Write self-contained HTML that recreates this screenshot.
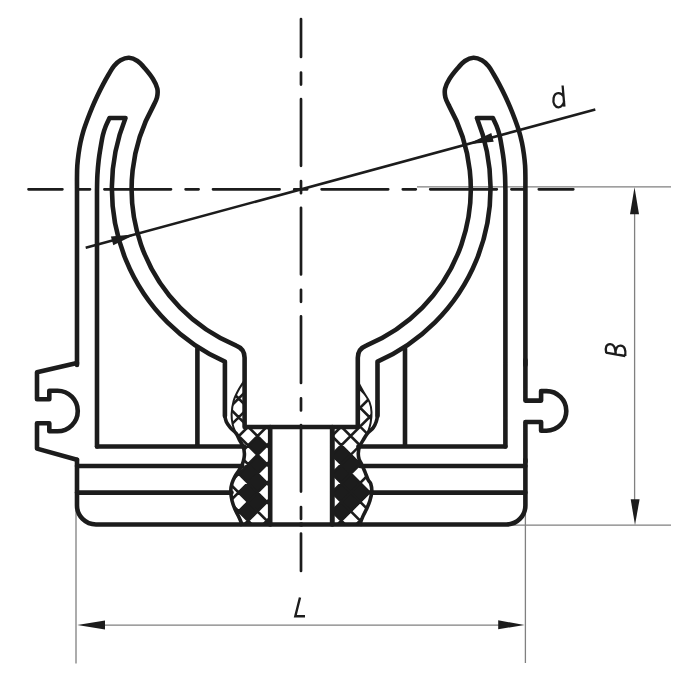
<!DOCTYPE html>
<html><head><meta charset="utf-8"><style>
html,body{margin:0;padding:0;background:#fff;width:700px;height:700px;overflow:hidden}
svg{display:block}
</style></head><body>
<svg width="700" height="700" viewBox="0 0 700 700">
<defs>
<clipPath id="cl"><path d="M244.6 380.3 C243.58 381.92 240.33 386.55 238.5 390 C236.67 393.45 234.75 396.95 233.6 401 C232.45 405.05 231.75 410.37 231.6 414.3 C231.45 418.23 231.92 421.38 232.7 424.6 C233.48 427.82 235.13 430.97 236.3 433.6 C237.47 436.23 238.57 438.27 239.7 440.4 C240.83 442.53 242.32 444.25 243.1 446.4 C243.88 448.55 244.25 451.3 244.4 453.3 C244.55 455.3 244.35 456.55 244 458.4 C243.65 460.25 243.15 462.4 242.3 464.4 C241.45 466.4 240.12 468.4 238.9 470.4 C237.68 472.4 236.15 474.25 235 476.4 C233.85 478.55 232.7 480.93 232 483.3 C231.3 485.67 230.8 487.7 230.8 490.6 C230.8 493.5 231.3 497.58 232 500.7 C232.7 503.82 233.93 506.73 235 509.3 C236.07 511.87 237.33 513.82 238.4 516.1 C239.47 518.38 240.77 521.35 241.4 523 C242.03 524.65 242.07 525.5 242.2 526 L270.2 526 L270.2 427 L244.6 427 Z"/></clipPath>
<clipPath id="cr"><path d="M358 382 C358.92 383.67 361.58 388.67 363.5 392 C365.42 395.33 368.17 398.67 369.5 402 C370.83 405.33 371.32 408.5 371.5 412 C371.68 415.5 371.3 419.4 370.6 423 C369.9 426.6 368.57 430.7 367.3 433.6 C366.03 436.5 364.28 438.27 363 440.4 C361.72 442.53 360.38 444.25 359.6 446.4 C358.82 448.55 358.38 451.15 358.3 453.3 C358.22 455.45 358.53 457.45 359.1 459.3 C359.67 461.15 360.77 462.4 361.7 464.4 C362.63 466.4 363.63 468.73 364.7 471.3 C365.77 473.87 367.1 477.75 368.1 479.8 C369.1 481.85 370.08 481.68 370.7 483.6 C371.32 485.52 371.93 488.45 371.8 491.3 C371.67 494.15 370.8 497.7 369.9 500.7 C369 503.7 367.55 506.73 366.4 509.3 C365.25 511.87 364 513.82 363 516.1 C362 518.38 360.93 521.35 360.4 523 C359.87 524.65 359.9 525.5 359.8 526 L332.2 526 L332.2 427 L358 427 Z"/></clipPath>
</defs>
<rect width="700" height="700" fill="#fff"/>
<!-- dimension lines -->
<g stroke="#808080" stroke-width="1.3" fill="none">
<path d="M417 186.9 L671 186.9 M512 525.2 L671 525.2 M634.6 200 L634.6 512 M76 505 L76 663.5 M525.4 512 L525.4 663 M90 625.2 L512 625.2"/>
</g>
<g fill="#1c1c1c" stroke="none">
<path d="M634.5 187.3 L639.0 214.3 L630.0 214.3 Z"/>
<path d="M635 525 L639.6 499.3 L630.7 499.3 Z"/>
<path d="M77.3 625 L105 620.5 L105 629.5 Z"/>
<path d="M524.5 625 L498.2 620.3 L498.2 629.2 Z"/>
</g>
<!-- centre lines -->
<g stroke="#1c1c1c" stroke-width="2.7" stroke-linecap="round" fill="none">
<path d="M301 19L301 57M301 72.6L301 84.6M301 99.2L301 165.8M301 181.2L301 193.2M301 207.8L301 274.4M301 289.8L301 301.8M301 316.4L301 383M301 398.4L301 410.4M301 425L301 491.6M301 507L301 519M301 533.6L301 571"/>
<path d="M28.5 189.3L62.4 189.3M77 189.3L90 189.3M104.4 189.3L171 189.3M185.6 189.3L198.6 189.3M213 189.3L279.6 189.3M294.2 189.3L307.2 189.3M321.6 189.3L388.2 189.3M402.8 189.3L415.8 189.3M430.2 189.3L496.8 189.3M511.4 189.3L524.4 189.3M538.8 189.3L573.3 189.3"/>
</g>
<!-- diameter line -->
<g stroke="#1c1c1c" stroke-width="2.6" fill="none"><path d="M85.7 247.7 L595.3 109.5"/></g>
<g fill="#1c1c1c" stroke="none">
<path d="M135.6 234.2 L110.9 236.6 L113.3 245.2 Z"/>
<path d="M467.4 144.2 L491.3 133.1 L493.7 141.7 Z"/>
</g>
<!-- clip body -->
<g stroke="#1c1c1c" fill="none" stroke-linejoin="round" stroke-linecap="round">

<path d="M301.2 427 L244.6 427 L244.6 357.8 Q244.6 348.77 236.2 345.54 A169.5 169.5 0 0 1 153.3 106 C153.92 104.58 156.33 100.42 157 97.5 C157.67 94.58 157.97 91.58 157.3 88.5 C156.63 85.42 155.05 82.33 153 79 C150.95 75.67 147.58 71.5 145 68.5 C142.42 65.5 140.17 62.78 137.5 61 C134.83 59.22 131.83 57.92 129 57.8 C126.17 57.68 123 58.93 120.5 60.3 C118 61.67 115.93 63.72 114 66 C112.07 68.28 110.72 70.95 108.9 74 C107.08 77.05 105.02 80.68 103.1 84.3 C101.18 87.92 99.2 91.9 97.4 95.7 C95.6 99.5 93.95 103.17 92.3 107.1 C90.65 111.03 89 115.25 87.5 119.3 C86 123.35 84.48 127.47 83.3 131.4 C82.12 135.33 81.2 139.08 80.4 142.9 C79.6 146.72 79.02 150.5 78.5 154.3 C77.98 158.1 77.55 161.9 77.3 165.7 C77.05 169.5 77.05 173.22 77 177.1 C76.95 180.98 77 187.02 77 189 L77 365" stroke-width="4.6"/>
<path d="M77 459.7 L77 505.5 A19 19 0 0 0 96 524.5 L301.2 524.5" stroke-width="4.6"/>
<path d="M97 446.5 L244 446.5M197.4 348.5 L197.4 446.5M77 466 L242.3 466M77 492.6 L231.5 492.6M270.2 427 L270.2 524.5" stroke-width="4.6"/>
<path d="M97 446.5 L97 190 C97.07 187.5 97.12 180 97.4 175 C97.68 170 98.18 164.5 98.7 160 C99.22 155.5 99.8 152.17 100.5 148 C101.2 143.83 102.02 138.67 102.9 135 C103.78 131.33 104.7 128.83 105.8 126 C106.9 123.17 108.88 119.33 109.5 118 L125.5 118 A189.2 189.2 0 0 0 224.9 361.7 L224.9 416" stroke-width="4.6"/>
<g transform="translate(602.4,0) scale(-1,1)">

<path d="M301.2 427 L244.6 427 L244.6 357.8 Q244.6 348.77 236.2 345.54 A169.5 169.5 0 0 1 153.3 106 C153.92 104.58 156.33 100.42 157 97.5 C157.67 94.58 157.97 91.58 157.3 88.5 C156.63 85.42 155.05 82.33 153 79 C150.95 75.67 147.58 71.5 145 68.5 C142.42 65.5 140.17 62.78 137.5 61 C134.83 59.22 131.83 57.92 129 57.8 C126.17 57.68 123 58.93 120.5 60.3 C118 61.67 115.93 63.72 114 66 C112.07 68.28 110.72 70.95 108.9 74 C107.08 77.05 105.02 80.68 103.1 84.3 C101.18 87.92 99.2 91.9 97.4 95.7 C95.6 99.5 93.95 103.17 92.3 107.1 C90.65 111.03 89 115.25 87.5 119.3 C86 123.35 84.48 127.47 83.3 131.4 C82.12 135.33 81.2 139.08 80.4 142.9 C79.6 146.72 79.02 150.5 78.5 154.3 C77.98 158.1 77.55 161.9 77.3 165.7 C77.05 169.5 77.05 173.22 77 177.1 C76.95 180.98 77 187.02 77 189 L77 365" stroke-width="4.6"/>
<path d="M77 459.7 L77 505.5 A19 19 0 0 0 96 524.5 L301.2 524.5" stroke-width="4.6"/>
<path d="M97 446.5 L244 446.5M197.4 348.5 L197.4 446.5M77 466 L242.3 466M77 492.6 L231.5 492.6M270.2 427 L270.2 524.5" stroke-width="4.6"/>
<path d="M97 446.5 L97 190 C97.07 187.5 97.12 180 97.4 175 C97.68 170 98.18 164.5 98.7 160 C99.22 155.5 99.8 152.17 100.5 148 C101.2 143.83 102.02 138.67 102.9 135 C103.78 131.33 104.7 128.83 105.8 126 C106.9 123.17 108.88 119.33 109.5 118 L125.5 118 A189.2 189.2 0 0 0 224.9 361.7 L224.9 416" stroke-width="4.6"/>
</g>
<path d="M77 363 L37 372.3 L37 399.3 L49.3 399.3 L49.3 390.7 L57.5 390.7 A20.3 20.3 0 0 1 57.5 431.3 L49.3 431.3 L49.3 423.3 L37 423.3 L37 448.6 L77 459.7" stroke-width="4.6"/>
<path d="M525.4 360 L525.4 400.6 L541.1 400.6 L541.1 391.1 L546.5 391.1 A19.8 19.8 0 0 1 546.5 430.7 L541.1 430.7 L541.1 422 L525.4 422 L525.4 462" stroke-width="4.6"/>
</g>
<g clip-path="url(#cl)"><path d="M248.1 445.5L257.5 436.1L266.9 445.5L257.5 454.9ZM248.1 464.3L257.5 454.9L266.9 464.3L257.5 473.7ZM248.1 483.1L257.5 473.7L266.9 483.1L257.5 492.5ZM248.1 501.9L257.5 492.5L266.9 501.9L257.5 511.3ZM238.7 473.7L248.1 464.3L257.5 473.7L248.1 483.1ZM238.7 492.5L248.1 483.1L257.5 492.5L248.1 501.9ZM238.7 511.3L248.1 501.9L257.5 511.3L248.1 520.7Z" fill="#1c1c1c" stroke="none"/><path d="M215 -85.4L275 -145.4M215 -170.4L275 -110.4M215 -66.6L275 -126.6M215 -151.6L275 -91.6M215 -47.8L275 -107.8M215 -132.8L275 -72.8M215 -29L275 -89M215 -114L275 -54M215 -10.2L275 -70.2M215 -95.2L275 -35.2M215 8.6L275 -51.4M215 -76.4L275 -16.4M215 27.4L275 -32.6M215 -57.6L275 2.4M215 46.2L275 -13.8M215 -38.8L275 21.2M215 65L275 5M215 -20L275 40M215 83.8L275 23.8M215 -1.2L275 58.8M215 102.6L275 42.6M215 17.6L275 77.6M215 121.4L275 61.4M215 36.4L275 96.4M215 140.2L275 80.2M215 55.2L275 115.2M215 159L275 99M215 74L275 134M215 177.8L275 117.8M215 92.8L275 152.8M215 196.6L275 136.6M215 111.6L275 171.6M215 215.4L275 155.4M215 130.4L275 190.4M215 234.2L275 174.2M215 149.2L275 209.2M215 253L275 193M215 168L275 228M215 271.8L275 211.8M215 186.8L275 246.8M215 290.6L275 230.6M215 205.6L275 265.6M215 309.4L275 249.4M215 224.4L275 284.4M215 328.2L275 268.2M215 243.2L275 303.2M215 347L275 287M215 262L275 322M215 365.8L275 305.8M215 280.8L275 340.8M215 384.6L275 324.6M215 299.6L275 359.6M215 403.4L275 343.4M215 318.4L275 378.4M215 422.2L275 362.2M215 337.2L275 397.2M215 441L275 381M215 356L275 416M215 459.8L275 399.8M215 374.8L275 434.8M215 478.6L275 418.6M215 393.6L275 453.6M215 497.4L275 437.4M215 412.4L275 472.4M215 516.2L275 456.2M215 431.2L275 491.2M215 535L275 475M215 450L275 510M215 553.8L275 493.8M215 468.8L275 528.8M215 572.6L275 512.6M215 487.6L275 547.6M215 591.4L275 531.4M215 506.4L275 566.4M215 610.2L275 550.2M215 525.2L275 585.2M215 629L275 569M215 544L275 604M215 647.8L275 587.8M215 562.8L275 622.8M215 666.6L275 606.6M215 581.6L275 641.6M215 685.4L275 625.4M215 600.4L275 660.4M215 704.2L275 644.2M215 619.2L275 679.2M215 723L275 663M215 638L275 698M215 741.8L275 681.8M215 656.8L275 716.8M215 760.6L275 700.6M215 675.6L275 735.6M215 779.4L275 719.4M215 694.4L275 754.4M215 798.2L275 738.2M215 713.2L275 773.2M215 817L275 757M215 732L275 792M215 835.8L275 775.8M215 750.8L275 810.8M215 854.6L275 794.6M215 769.6L275 829.6M215 873.4L275 813.4M215 788.4L275 848.4M215 892.2L275 832.2M215 807.2L275 867.2M215 911L275 851M215 826L275 886M215 929.8L275 869.8M215 844.8L275 904.8M215 948.6L275 888.6M215 863.6L275 923.6M215 967.4L275 907.4M215 882.4L275 942.4M215 986.2L275 926.2M215 901.2L275 961.2M215 1005L275 945M215 920L275 980M215 1023.8L275 963.8M215 938.8L275 998.8M215 1042.6L275 982.6M215 957.6L275 1017.6" stroke="#1c1c1c" stroke-width="2.6" fill="none"/></g>
<g clip-path="url(#cr)"><path d="M331.9 454.8L341.3 445.4L350.7 454.8L341.3 464.2ZM341.3 464.2L350.7 454.8L360.1 464.2L350.7 473.6ZM331.9 473.6L341.3 464.2L350.7 473.6L341.3 483ZM341.3 483L350.7 473.6L360.1 483L350.7 492.4ZM350.7 492.4L360.1 483L369.5 492.4L360.1 501.8ZM331.9 492.4L341.3 483L350.7 492.4L341.3 501.8ZM341.3 501.8L350.7 492.4L360.1 501.8L350.7 511.2ZM331.9 511.2L341.3 501.8L350.7 511.2L341.3 520.6Z" fill="#1c1c1c" stroke="none"/><path d="M325 -121.1L385 -181.1M325 -153.7L385 -93.7M325 -102.3L385 -162.3M325 -134.9L385 -74.9M325 -83.5L385 -143.5M325 -116.1L385 -56.1M325 -64.7L385 -124.7M325 -97.3L385 -37.3M325 -45.9L385 -105.9M325 -78.5L385 -18.5M325 -27.1L385 -87.1M325 -59.7L385 0.3M325 -8.3L385 -68.3M325 -40.9L385 19.1M325 10.5L385 -49.5M325 -22.1L385 37.9M325 29.3L385 -30.7M325 -3.3L385 56.7M325 48.1L385 -11.9M325 15.5L385 75.5M325 66.9L385 6.9M325 34.3L385 94.3M325 85.7L385 25.7M325 53.1L385 113.1M325 104.5L385 44.5M325 71.9L385 131.9M325 123.3L385 63.3M325 90.7L385 150.7M325 142.1L385 82.1M325 109.5L385 169.5M325 160.9L385 100.9M325 128.3L385 188.3M325 179.7L385 119.7M325 147.1L385 207.1M325 198.5L385 138.5M325 165.9L385 225.9M325 217.3L385 157.3M325 184.7L385 244.7M325 236.1L385 176.1M325 203.5L385 263.5M325 254.9L385 194.9M325 222.3L385 282.3M325 273.7L385 213.7M325 241.1L385 301.1M325 292.5L385 232.5M325 259.9L385 319.9M325 311.3L385 251.3M325 278.7L385 338.7M325 330.1L385 270.1M325 297.5L385 357.5M325 348.9L385 288.9M325 316.3L385 376.3M325 367.7L385 307.7M325 335.1L385 395.1M325 386.5L385 326.5M325 353.9L385 413.9M325 405.3L385 345.3M325 372.7L385 432.7M325 424.1L385 364.1M325 391.5L385 451.5M325 442.9L385 382.9M325 410.3L385 470.3M325 461.7L385 401.7M325 429.1L385 489.1M325 480.5L385 420.5M325 447.9L385 507.9M325 499.3L385 439.3M325 466.7L385 526.7M325 518.1L385 458.1M325 485.5L385 545.5M325 536.9L385 476.9M325 504.3L385 564.3M325 555.7L385 495.7M325 523.1L385 583.1M325 574.5L385 514.5M325 541.9L385 601.9M325 593.3L385 533.3M325 560.7L385 620.7M325 612.1L385 552.1M325 579.5L385 639.5M325 630.9L385 570.9M325 598.3L385 658.3M325 649.7L385 589.7M325 617.1L385 677.1M325 668.5L385 608.5M325 635.9L385 695.9M325 687.3L385 627.3M325 654.7L385 714.7M325 706.1L385 646.1M325 673.5L385 733.5M325 724.9L385 664.9M325 692.3L385 752.3M325 743.7L385 683.7M325 711.1L385 771.1M325 762.5L385 702.5M325 729.9L385 789.9M325 781.3L385 721.3M325 748.7L385 808.7M325 800.1L385 740.1M325 767.5L385 827.5M325 818.9L385 758.9M325 786.3L385 846.3M325 837.7L385 777.7M325 805.1L385 865.1M325 856.5L385 796.5M325 823.9L385 883.9M325 875.3L385 815.3M325 842.7L385 902.7M325 894.1L385 834.1M325 861.5L385 921.5M325 912.9L385 852.9M325 880.3L385 940.3M325 931.7L385 871.7M325 899.1L385 959.1M325 950.5L385 890.5M325 917.9L385 977.9M325 969.3L385 909.3M325 936.7L385 996.7M325 988.1L385 928.1M325 955.5L385 1015.5M325 1006.9L385 946.9M325 974.3L385 1034.3" stroke="#1c1c1c" stroke-width="2.6" fill="none"/></g>
<g stroke="#1c1c1c" fill="none">
<path d="M377.5 400 C377.5 402.5 377.72 411.37 377.5 415 C377.28 418.63 376.9 419.7 376.2 421.8 C375.5 423.9 374.78 425.63 373.3 427.6 C371.82 429.57 369.02 431.47 367.3 433.6 C365.58 435.73 364.28 438.27 363 440.4 C361.72 442.53 360.38 444.25 359.6 446.4 C358.82 448.55 358.38 451.15 358.3 453.3 C358.22 455.45 358.53 457.45 359.1 459.3 C359.67 461.15 360.77 462.4 361.7 464.4 C362.63 466.4 363.63 468.73 364.7 471.3 C365.77 473.87 367.1 477.75 368.1 479.8 C369.1 481.85 370.08 481.68 370.7 483.6 C371.32 485.52 371.93 488.45 371.8 491.3 C371.67 494.15 370.8 497.7 369.9 500.7 C369 503.7 367.55 506.73 366.4 509.3 C365.25 511.87 364 513.82 363 516.1 C362 518.38 360.93 521.35 360.4 523 C359.87 524.65 359.9 525.5 359.8 526" stroke-width="3.6"/>
<path d="M358 382 C358.92 383.67 361.58 388.67 363.5 392 C365.42 395.33 368.17 398.67 369.5 402 C370.83 405.33 371.32 408.5 371.5 412 C371.68 415.5 371.18 419.67 370.6 423 C370.02 426.33 368.43 430.5 368 432" stroke-width="2"/>
<path d="M332.2 427 L332.2 524.5" stroke-width="4.6"/>
</g>
<g stroke="#1c1c1c" fill="none"><path d="M224.9 400 C224.9 402.5 224.67 411.37 224.9 415 C225.13 418.63 225.4 419.7 226.3 421.8 C227.2 423.9 228.63 425.63 230.3 427.6 C231.97 429.57 234.73 431.47 236.3 433.6 C237.87 435.73 238.57 438.27 239.7 440.4 C240.83 442.53 242.32 444.25 243.1 446.4 C243.88 448.55 244.25 451.3 244.4 453.3 C244.55 455.3 244.35 456.55 244 458.4 C243.65 460.25 243.15 462.4 242.3 464.4 C241.45 466.4 240.12 468.4 238.9 470.4 C237.68 472.4 236.15 474.25 235 476.4 C233.85 478.55 232.7 480.93 232 483.3 C231.3 485.67 230.8 487.7 230.8 490.6 C230.8 493.5 231.3 497.58 232 500.7 C232.7 503.82 233.93 506.73 235 509.3 C236.07 511.87 237.33 513.82 238.4 516.1 C239.47 518.38 240.77 521.35 241.4 523 C242.03 524.65 242.07 525.5 242.2 526" stroke-width="3.6"/><path d="M244.6 380.3 C243.58 381.92 240.33 386.55 238.5 390 C236.67 393.45 234.75 396.95 233.6 401 C232.45 405.05 231.75 410.37 231.6 414.3 C231.45 418.23 232.13 421.82 232.7 424.6 C233.27 427.38 234.62 429.93 235 431" stroke-width="2"/></g>
<g stroke="#1c1c1c" fill="none">

<path d="M300 597.5 L295.3 616.2 L305 616.2" stroke-width="2.4" fill="none" stroke-linejoin="miter"/>
<path d="M562.6 85.5 L564.4 106.6 M563.6 96.5 C561 92 555 91.5 553.6 98 C552.5 104 555.5 107.5 558.5 107.3 C561.5 107 563.6 104 564.2 101" stroke-width="2.3" fill="none"/>
<path d="M605.8 352.6 L625.3 356 M606.2 352.7 C604.9 347.3 606.5 344.0 610.2 344.1 C613.6 344.2 615.5 347.3 615.7 354.3 M615.7 354.3 C615 348.3 617.5 345.4 620.5 345.6 C624.5 345.8 626 349.5 625.3 356" stroke-width="2.3" fill="none"/>

</g>
</svg>
</body></html>
